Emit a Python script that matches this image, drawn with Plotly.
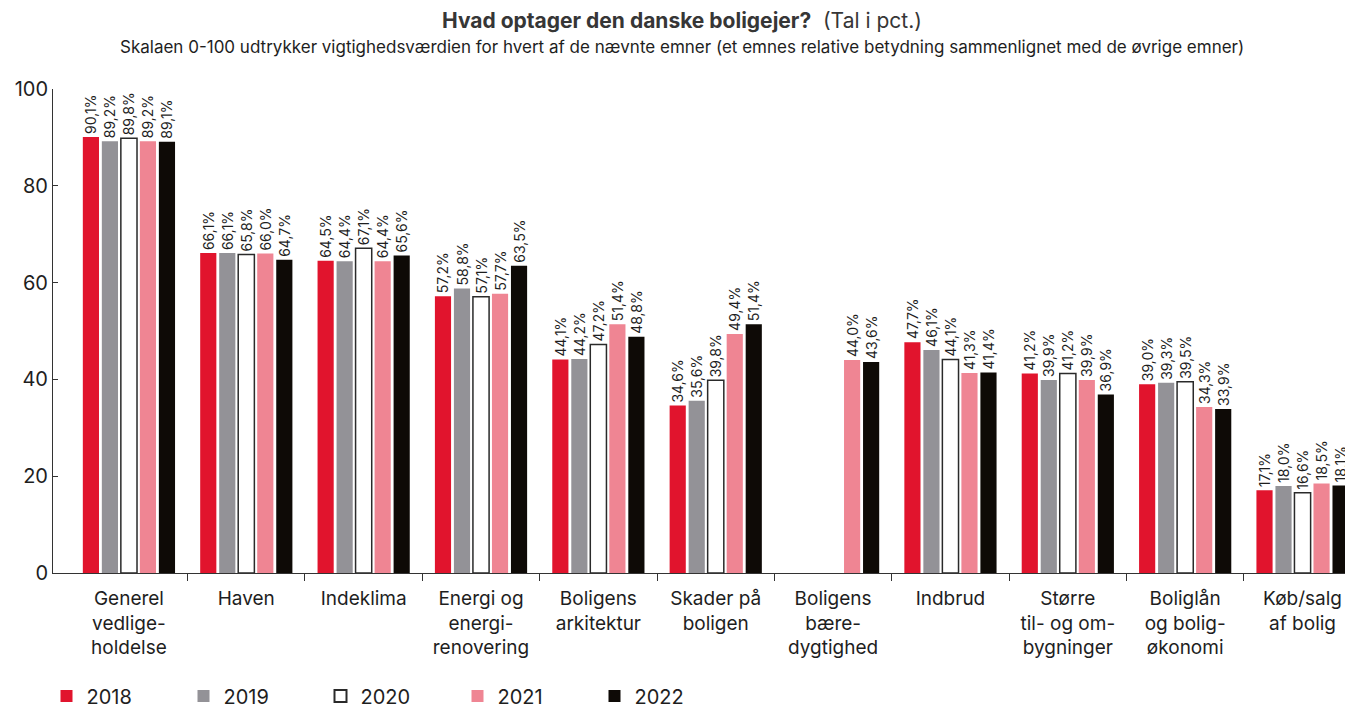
import plotly.graph_objects as go

categories = [
    "Generel<br>vedlige-<br>holdelse",
    "Haven",
    "Indeklima",
    "Energi og<br>energi-<br>renovering",
    "Boligens<br>arkitektur",
    "Skader på<br>boligen",
    "Boligens<br>bære-<br>dygtighed",
    "Indbrud",
    "Større<br>til- og om-<br>bygninger",
    "Boliglån<br>og bolig-<br>økonomi",
    "Køb/salg<br>af bolig",
]

years = ["2018", "2019", "2020", "2021", "2022"]

v2018 = [90.1, 66.1, 64.5, 57.2, 44.1, 34.6, None, 47.7, 41.2, 39.0, 17.1]
v2019 = [89.2, 66.1, 64.4, 58.8, 44.2, 35.6, None, 46.1, 39.9, 39.3, 18.0]
v2020 = [89.8, 65.8, 67.1, 57.1, 47.2, 39.8, None, 44.1, 41.2, 39.5, 16.6]
v2021 = [89.2, 66.0, 64.4, 57.7, 51.4, 49.4, 44.0, 41.3, 39.9, 34.3, 18.5]
v2022 = [89.1, 64.7, 65.6, 63.5, 48.8, 51.4, 43.6, 41.4, 36.9, 33.9, 18.1]

y_ticks = [0, 20, 40, 60, 80, 100]

series = [v2018, v2019, v2020, v2021, v2022]
fills = ["#e1142d", "#939297", "#ffffff", "#ef8593", "#0e0a06"]
lines = ["#e1142d", "#939297", "#2a2a2a", "#ef8593", "#0e0a06"]
line_w = [0, 0, 1.5, 0, 0]

FONT = "Inter"
TXT = "#1e1e1e"

def fmt(v):
    if v is None:
        return ""
    return f"{v:.1f}".replace(".", ",") + "%"

xs = list(range(len(categories)))

fig = go.Figure()
for name, vals, fc, lc, lw in zip(years, series, fills, lines, line_w):
    fig.add_trace(go.Bar(
        x=xs, y=vals, name=name,
        marker=dict(color=fc, line=dict(color=lc, width=lw)),
        text=[fmt(v) for v in vals],
        textposition="outside",
        textangle=-90,
        constraintext="none",
        cliponaxis=False,
        textfont=dict(family=FONT, size=14, color=TXT),
        hoverinfo="skip",
    ))

# page body has an 8px margin: compensate so plot area sits at x 53..1353, y 89..573
W, H = 1345, 702
ML, MT, MB = 45, 81, 137
plot_h = H - MT - MB
plot_w = W - ML
title_x = (682 - 53) / plot_w

fig.update_layout(
    width=W, height=H,
    margin=dict(l=ML, r=0, t=MT, b=MB, autoexpand=False),
    paper_bgcolor="white", plot_bgcolor="white",
    barmode="group", bargap=0.19, bargroupgap=0.15,
    font=dict(family=FONT, color=TXT),
    showlegend=True,
    legend=dict(
        orientation="h", x=-0.005, xanchor="left", y=-123 / plot_h, yanchor="middle",
        font=dict(family=FONT, size=20, color=TXT),
        entrywidth=92, entrywidthmode="pixels",
        itemsizing="constant", traceorder="normal",
    ),
    annotations=[
        dict(
            text="<b>Hvad optager den danske boligejer?</b>  (Tal i pct.)",
            x=title_x, xref="paper", xanchor="center",
            y=1 + (89 - 20) / plot_h, yref="paper", yanchor="middle",
            showarrow=False, font=dict(family=FONT, size=21, color="#363636"),
        ),
        dict(
            text="Skalaen 0-100 udtrykker vigtighedsværdien for hvert af de nævnte emner (et emnes relative betydning sammenlignet med de øvrige emner)",
            x=title_x, xref="paper", xanchor="center",
            y=1 + (89 - 47) / plot_h, yref="paper", yanchor="middle",
            showarrow=False, font=dict(family=FONT, size=17, color=TXT),
        ),
    ],
)

fig.update_xaxes(
    range=[-0.647, 10.43],
    tickmode="array", tickvals=xs, ticktext=categories,
    ticks="", showline=True, linecolor="#333", linewidth=1,
    showgrid=False, zeroline=False, automargin=False,
    ticklabelstandoff=8,
    tickfont=dict(family=FONT, size=19, color=TXT),
    minor=dict(tickmode="array", tickvals=[i + 0.5 for i in xs[:-1]],
               ticks="outside", ticklen=7, tickcolor="#333", tickwidth=1),
)
fig.update_yaxes(
    range=[0, 100], tickmode="array", tickvals=y_ticks,
    ticks="inside", ticklen=5, tickcolor="#333",
    showline=True, linecolor="#333", linewidth=1,
    showgrid=False, zeroline=False, automargin=False,
    tickfont=dict(family=FONT, size=20, color=TXT),
)

fig.write_html("out.html")
